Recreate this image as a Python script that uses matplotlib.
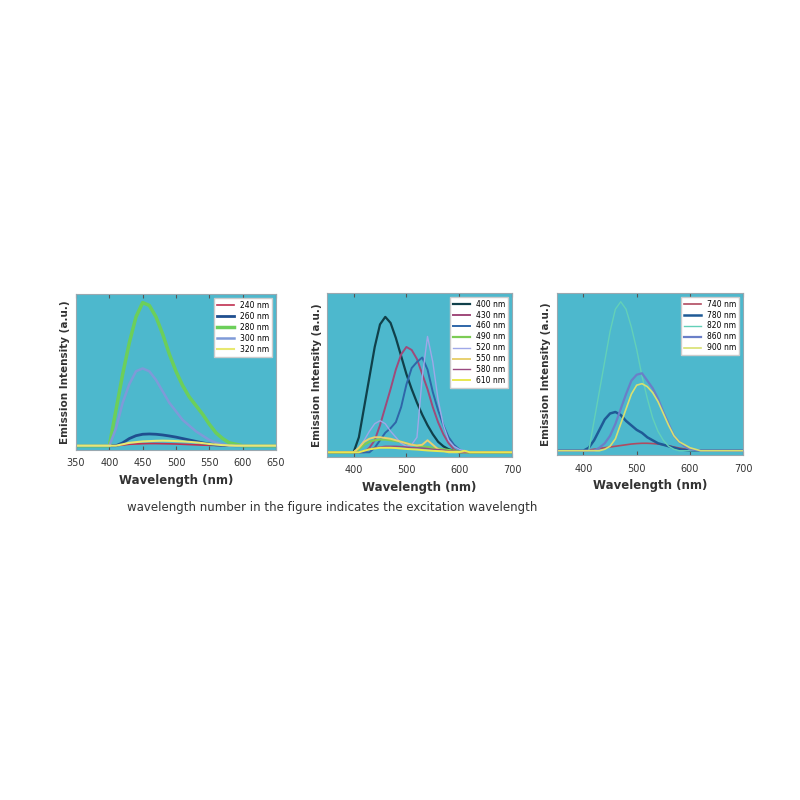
import matplotlib
matplotlib.use("Agg")
import matplotlib.pyplot as plt

bg = "#4db8cd"

# panel 1: excitation 240-320 nm
wl1 = [350, 400, 410, 420, 430, 440, 450, 460, 470, 480, 490, 500, 510, 520, 530, 540, 550, 560, 570, 580, 590, 600, 650]
ex240 = [0, 0, 0.0, 0.005, 0.01, 0.012, 0.014, 0.015, 0.015, 0.014, 0.013, 0.012, 0.01, 0.008, 0.006, 0.004, 0.003, 0.002, 0.001, 0, 0, 0, 0]
ex260 = [0, 0, 0.0, 0.02, 0.05, 0.07, 0.08, 0.082, 0.08, 0.075, 0.068, 0.06, 0.05, 0.04, 0.03, 0.02, 0.012, 0.006, 0.003, 0.001, 0, 0, 0]
ex280 = [0, 0, 0.25, 0.5, 0.72, 0.9, 1.0, 0.98, 0.9, 0.78, 0.64, 0.52, 0.42, 0.34, 0.28, 0.22, 0.15, 0.09, 0.05, 0.02, 0.01, 0, 0]
ex300 = [0, 0, 0.12, 0.3, 0.43, 0.52, 0.54, 0.52, 0.46, 0.38, 0.3, 0.24, 0.18, 0.14, 0.1, 0.07, 0.04, 0.02, 0.01, 0, 0, 0, 0]
ex320 = [0, 0, 0, 0.01, 0.02, 0.025, 0.03, 0.032, 0.034, 0.035, 0.034, 0.032, 0.03, 0.027, 0.023, 0.018, 0.012, 0.008, 0.004, 0.002, 0, 0, 0]

# panel 2: excitation 400-610 nm
wl2 = [350, 400, 410, 420, 430, 440, 450, 460, 470, 480, 490, 500, 510, 520, 530, 540, 550, 560, 570, 580, 590, 600, 610, 620, 700]
ex400 = [0, 0, 0.1, 0.3, 0.5, 0.7, 0.85, 0.9, 0.86, 0.76, 0.64, 0.52, 0.42, 0.33, 0.25, 0.18, 0.12, 0.07, 0.04, 0.02, 0.01, 0, 0, 0, 0]
ex430 = [0, 0, 0, 0, 0.03, 0.08, 0.18, 0.3, 0.42, 0.55, 0.65, 0.7, 0.68, 0.62, 0.52, 0.42, 0.3, 0.2, 0.12, 0.06, 0.02, 0, 0, 0, 0]
ex460 = [0, 0, 0, 0, 0, 0.03, 0.08, 0.13, 0.16, 0.2, 0.3, 0.45, 0.56, 0.6, 0.63, 0.55, 0.4, 0.28, 0.18, 0.1, 0.05, 0.02, 0, 0, 0]
ex490 = [0, 0, 0.02, 0.05, 0.07, 0.08, 0.085, 0.085, 0.08, 0.075, 0.07, 0.06, 0.05, 0.045, 0.04, 0.035, 0.03, 0.025, 0.02, 0.015, 0.01, 0.005, 0, 0, 0]
ex520 = [0, 0, 0.03, 0.08, 0.14, 0.19, 0.21, 0.19, 0.14, 0.1, 0.06, 0.04, 0.05, 0.1, 0.5, 0.77, 0.6, 0.35, 0.18, 0.08, 0.04, 0.02, 0.01, 0, 0]
ex550 = [0, 0, 0.03, 0.07, 0.09, 0.1, 0.1, 0.095, 0.09, 0.08, 0.07, 0.06, 0.05, 0.045, 0.05, 0.08, 0.05, 0.02, 0.01, 0, 0, 0, 0, 0, 0]
ex580 = [0, 0, 0, 0.01, 0.02, 0.03, 0.035, 0.04, 0.04, 0.04, 0.038, 0.035, 0.03, 0.03, 0.028, 0.025, 0.02, 0.018, 0.015, 0.01, 0.008, 0.005, 0.002, 0, 0]
ex610 = [0, 0, 0, 0.01, 0.02, 0.025, 0.03, 0.03, 0.03, 0.028, 0.025, 0.022, 0.02, 0.018, 0.015, 0.012, 0.01, 0.008, 0.006, 0.004, 0.003, 0.002, 0.01, 0, 0]

# panel 3: excitation 740-900 nm
wl3 = [350, 400, 410, 420, 430, 440, 450, 460, 470, 480, 490, 500, 510, 520, 530, 540, 550, 560, 570, 580, 590, 600, 620, 700]
ex740 = [0, 0, 0.005, 0.01, 0.015, 0.02, 0.025, 0.03, 0.035, 0.04, 0.045, 0.048, 0.05, 0.05, 0.048, 0.045, 0.04, 0.033, 0.025, 0.018, 0.012, 0.007, 0, 0]
ex780 = [0, 0, 0.02, 0.07, 0.14, 0.21, 0.25, 0.26, 0.24, 0.2, 0.17, 0.14, 0.12, 0.09, 0.07, 0.05, 0.04, 0.03, 0.02, 0.01, 0.005, 0, 0, 0]
ex820 = [0, 0, 0, 0.2, 0.4, 0.6, 0.8, 0.95, 1.0, 0.95, 0.83, 0.68, 0.5, 0.35, 0.22, 0.13, 0.07, 0.03, 0.01, 0, 0, 0, 0, 0]
ex860 = [0, 0, 0, 0, 0.02, 0.05, 0.1, 0.18, 0.28, 0.38, 0.47, 0.51, 0.52, 0.47, 0.42, 0.35, 0.26, 0.18, 0.1, 0.06, 0.03, 0.01, 0, 0]
ex900 = [0, 0, 0, 0, 0, 0.01, 0.03, 0.08, 0.18, 0.28, 0.38, 0.44, 0.45, 0.43, 0.39, 0.33, 0.25, 0.17, 0.1, 0.06, 0.04, 0.02, 0, 0]

fig = plt.figure(figsize=(8, 8), dpi=100)

def panel(rect, wl, series, labels, colors, widths, xlim, xticks):
    ax = fig.add_axes(rect)
    ax.set_facecolor(bg)
    for y, lab, c, w in zip(series, labels, colors, widths):
        ax.plot(wl, y, color=c, lw=w, label=lab)
    ax.set_xlim(*xlim)
    ax.set_ylim(-0.03, 1.06)
    ax.set_xticks(xticks)
    ax.set_yticks([])
    ax.tick_params(axis="x", labelsize=7, direction="in", top=True, length=3, pad=6,
                   colors="#555555", labelcolor="#333333")
    for s in ax.spines.values():
        s.set_color("#9aa8b0")
    ax.set_xlabel("Wavelength (nm)", fontsize=8.5, fontweight="bold", color="#333333", labelpad=4)
    ax.set_ylabel("Emission Intensity (a.u.)", fontsize=7.5, fontweight="bold", color="#333333", labelpad=4)
    leg = ax.legend(loc="upper right", fontsize=5.5, frameon=True, fancybox=False,
                    handlelength=2.2, borderpad=0.4, labelspacing=0.25)
    leg.get_frame().set_facecolor("white")
    leg.get_frame().set_edgecolor("#cccccc")
    leg.get_frame().set_alpha(1)
    return ax

panel([0.095, 0.4375, 0.25, 0.195], wl1,
      [ex240, ex260, ex280, ex300, ex320],
      ["240 nm", "260 nm", "280 nm", "300 nm", "320 nm"],
      ["#c03050", "#1f4f8f", "#6ccf5a", "#7f9ad8", "#e8e870"],
      [1.2, 2.0, 2.5, 1.8, 1.5],
      (350, 650), [350, 400, 450, 500, 550, 600, 650])

panel([0.409, 0.429, 0.231, 0.205], wl2,
      [ex400, ex430, ex460, ex490, ex520, ex550, ex580, ex610],
      ["400 nm", "430 nm", "460 nm", "490 nm", "520 nm", "550 nm", "580 nm", "610 nm"],
      ["#10404a", "#a04a7a", "#2f66a8", "#7ccc55", "#9fa8e8", "#e8d070", "#9a4a80", "#e8e850"],
      [1.6, 1.4, 1.4, 1.6, 1.0, 1.4, 1.0, 1.4],
      (350, 700), [400, 500, 600, 700])

panel([0.696, 0.431, 0.233, 0.203], wl3,
      [ex740, ex780, ex820, ex860, ex900],
      ["740 nm", "780 nm", "820 nm", "860 nm", "900 nm"],
      ["#b04a60", "#1f5a96", "#63d0b8", "#6a7fc8", "#d8e070"],
      [1.2, 1.8, 1.0, 1.6, 1.2],
      (350, 700), [400, 500, 600, 700])

fig.text(0.415, 0.365, "wavelength number in the figure indicates the excitation wavelength",
         ha="center", va="center", fontsize=8.5, color="#333333")

fig.savefig("out.png", dpi=100, facecolor="white")
